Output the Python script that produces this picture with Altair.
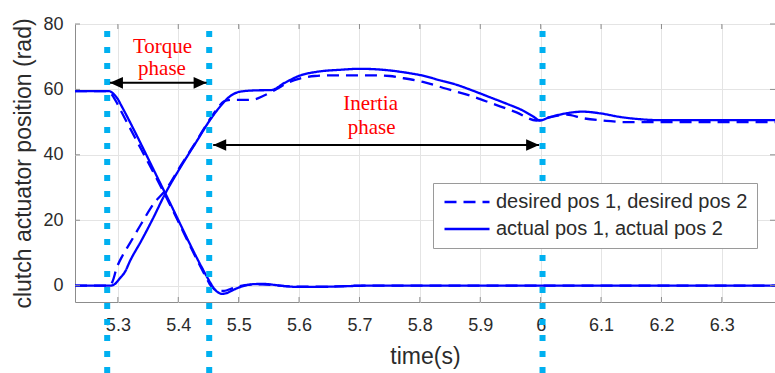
import altair as alt
import pandas as pd

# axes
x_ticks = [5.3, 5.4, 5.5, 5.6, 5.7, 5.8, 5.9, 6.0, 6.1, 6.2, 6.3]
y_ticks = [0, 20, 40, 60, 80]
x_domain = [5.229, 6.388]
y_domain = [-5, 80]

# clutch 1 (disengaging): desired and actual position
t_des1 = [5.229, 5.283, 5.288, 5.293, 5.298, 5.303, 5.378, 5.447, 5.452, 5.458, 5.466,
          5.476, 5.488, 5.500, 5.520, 5.540, 5.560, 5.600, 5.650, 5.700, 6.388]
p_des1 = [59.5, 59.5, 58.9, 57.6, 56.0, 54.2, 27.8, 2.2, 0.5, -0.8, -1.6,
          -1.6, -0.9, -0.2, 0.3, 0.4, 0.1, -0.3, -0.3, 0.0, 0.0]
t_act1 = [5.229, 5.285, 5.290, 5.295, 5.300, 5.305, 5.378, 5.449, 5.454, 5.458, 5.464,
          5.472, 5.480, 5.490, 5.500, 5.515, 5.530, 5.545, 5.560, 5.580, 5.600,
          5.630, 5.670, 5.720, 6.388]
p_act1 = [59.5, 59.5, 59.1, 58.2, 57.0, 55.3, 28.4, 2.2, 0.6, -0.6, -1.8,
          -2.5, -2.3, -1.4, -0.6, 0.2, 0.5, 0.5, 0.2, -0.2, -0.4,
          -0.4, -0.2, 0.0, 0.0]

# clutch 2 (engaging): desired and actual position
t_des2 = [5.229, 5.287, 5.291, 5.298, 5.308, 5.320, 5.339, 5.361, 5.378, 5.403,
          5.430, 5.452, 5.466, 5.475, 5.489, 5.510, 5.524, 5.543, 5.563, 5.581,
          5.601, 5.626, 5.656, 5.717, 5.750, 5.767, 5.805, 5.844, 5.883, 5.921,
          5.960, 5.993, 6.015, 6.043, 6.070, 6.109, 6.139, 6.388]
p_des2 = [0.0, 0.0, 1.2, 5.4, 9.3, 13.0, 19.0, 25.5, 29.0, 36.4,
          44.2, 50.8, 54.5, 56.3, 56.8, 56.8, 56.9, 58.2, 60.1, 62.0,
          63.3, 64.1, 64.3, 64.3, 64.1, 63.6, 62.3, 60.2, 58.1, 55.6,
          53.0, 50.5, 51.5, 52.3, 51.2, 50.4, 50.0, 50.0]
t_act2 = [5.229, 5.288, 5.295, 5.303, 5.312, 5.320, 5.339, 5.358, 5.378, 5.403,
          5.430, 5.452, 5.469, 5.485, 5.502, 5.527, 5.554, 5.576, 5.601, 5.634,
          5.668, 5.701, 5.750, 5.778, 5.805, 5.833, 5.861, 5.888, 5.916, 5.944,
          5.971, 5.987, 5.999, 6.012, 6.037, 6.070, 6.098, 6.131, 6.164, 6.197, 6.388]
p_act2 = [0.0, 0.0, 0.5, 2.2, 4.3, 7.5, 13.8, 20.5, 28.0, 36.0,
          44.0, 50.5, 54.7, 57.8, 59.3, 59.7, 59.8, 62.0, 64.2, 65.5,
          66.0, 66.3, 65.8, 65.1, 64.2, 62.8, 61.4, 59.6, 57.6, 55.6,
          53.5, 51.8, 50.5, 51.3, 52.5, 53.2, 52.7, 51.6, 50.9, 50.6, 50.6]

kind_names = ["desired pos 1, desired pos 2", "actual pos 1, actual pos 2"]

# phase boundaries and annotations
phase_marks = [5.2823, 5.4512, 6.0031]
torque_arrow = {"t0": 5.2868, "t1": 5.4469, "y": 62.0}
inertia_arrow = {"t0": 5.4578, "t1": 5.9975, "y": 43.0}
note_text = ["Torque", "phase", "Inertia", "phase"]
note_t = [5.374, 5.373, 5.7184, 5.720]
note_y = [73.0, 66.3, 55.6, 48.3]

BLUE = "#0000ff"
CYAN = "#00b0f0"
TXT = "#2b2b2b"
FRAME = "#8c8c8c"
SANS = "Liberation Sans"

rows = []
for name, kind, ts, ps in [
    ("des1", kind_names[0], t_des1, p_des1),
    ("des2", kind_names[0], t_des2, p_des2),
    ("act1", kind_names[1], t_act1, p_act1),
    ("act2", kind_names[1], t_act2, p_act2),
]:
    for t, p in zip(ts, ps):
        rows.append({"time": t, "value": p, "series": name, "kind": kind})
curves = pd.DataFrame(rows)

xs = alt.Scale(domain=x_domain, nice=False, zero=False)
ys = alt.Scale(domain=y_domain, nice=False, zero=False)

lines = alt.Chart(curves).mark_line(
    color=BLUE, strokeWidth=2.3, interpolate="monotone", clip=True
).encode(
    x=alt.X("time:Q", scale=xs, axis=alt.Axis(
        values=x_ticks, format=".1~f", grid=True, ticks=False, domain=False,
        labelFontSize=18, labelPadding=14, labelColor=TXT, labelFont=SANS,
        labelFlush=False, title="time(s)", titleFontSize=23, titleFont=SANS,
        titleFontWeight="normal", titleColor=TXT, titleY=61,
        titleBaseline="alphabetic", gridColor="#e4e4e4", gridWidth=1)),
    y=alt.Y("value:Q", scale=ys, axis=alt.Axis(
        values=y_ticks, grid=True, ticks=False, domain=False,
        labelFontSize=18, labelPadding=12, labelColor=TXT, labelFont=SANS,
        title="clutch actuator position (rad)", titleFontSize=23, titleFont=SANS,
        titleFontWeight="normal", titleColor=TXT, titleX=-45,
        titleBaseline="alphabetic", gridColor="#e4e4e4", gridWidth=1)),
    strokeDash=alt.StrokeDash("kind:N", scale=alt.Scale(
        domain=kind_names, range=[[12, 7], [1, 0]]),
        legend=alt.Legend(
            title=None, orient="none", legendX=358, legendY=159,
            # a 45px long line drawn from the left edge of a 15px symbol slot
            symbolType="M-1,0L5,0", symbolSize=225, symbolStrokeWidth=2.5,
            symbolStrokeColor=BLUE, symbolFillColor="transparent",
            labelFontSize=20, labelFont=SANS,
            labelColor=TXT, labelOffset=34, labelLimit=400,
            fillColor="white", strokeColor="#9a9a9a", padding=9,
            rowPadding=7, cornerRadius=0)),
    detail="series:N",
)

# inward tick marks on the frame
xt = pd.DataFrame({"time": x_ticks})
yt = pd.DataFrame({"value": y_ticks})
tick_style = dict(color=FRAME, strokeWidth=1)
ticks_bottom = alt.Chart(xt).mark_rule(**tick_style).encode(
    x=alt.X("time:Q", scale=xs), y=alt.value(278), y2=alt.value(273))
ticks_top = alt.Chart(xt).mark_rule(**tick_style).encode(
    x=alt.X("time:Q", scale=xs), y=alt.value(0), y2=alt.value(5))
ticks_left = alt.Chart(yt).mark_rule(**tick_style).encode(
    y=alt.Y("value:Q", scale=ys), x=alt.value(0), x2=alt.value(5))
ticks_right = alt.Chart(yt).mark_rule(**tick_style).encode(
    y=alt.Y("value:Q", scale=ys), x=alt.value(700), x2=alt.value(695))

# dotted phase boundaries running past the frame
phases = alt.Chart(pd.DataFrame({"time": phase_marks})).mark_rule(
    color=CYAN, strokeWidth=6, strokeDash=[6, 10]
).encode(x=alt.X("time:Q", scale=xs), y=alt.value(7), y2=alt.value(349))

# double-headed arrows
arrows = pd.DataFrame([
    {"t0": torque_arrow["t0"], "t1": torque_arrow["t1"], "y": torque_arrow["y"]},
    {"t0": inertia_arrow["t0"], "t1": inertia_arrow["t1"], "y": inertia_arrow["y"]},
])
shafts = alt.Chart(arrows).mark_rule(color="black", strokeWidth=2).encode(
    x=alt.X("t0:Q", scale=xs), x2="t1:Q", y=alt.Y("y:Q", scale=ys))
heads_left = alt.Chart(arrows).mark_point(
    shape="M0,0L2,-0.9L2,0.9Z", filled=True, size=169, color="black",
    opacity=1, strokeWidth=0
).encode(x=alt.X("t0:Q", scale=xs), y=alt.Y("y:Q", scale=ys))
heads_right = alt.Chart(arrows).mark_point(
    shape="M0,0L-2,-0.9L-2,0.9Z", filled=True, size=169, color="black",
    opacity=1, strokeWidth=0
).encode(x=alt.X("t1:Q", scale=xs), y=alt.Y("y:Q", scale=ys))

notes = alt.Chart(pd.DataFrame({"label": note_text, "time": note_t, "value": note_y})).mark_text(
    font="Liberation Serif", fontSize=21, color="#ff0000", align="center",
    baseline="middle"
).encode(x=alt.X("time:Q", scale=xs), y=alt.Y("value:Q", scale=ys), text="label:N")

chart = alt.layer(
    lines, ticks_bottom, ticks_top, ticks_left, ticks_right,
    phases, shafts, heads_left, heads_right, notes
).properties(
    width=700, height=278,
    autosize=alt.AutoSizeParams(type="none"),
    padding={"left": 75, "top": 24, "right": 0, "bottom": 71},
    background="white",
).configure_view(stroke=FRAME, strokeWidth=1)

chart.save("out.html", embed_options={"renderer": "svg", "actions": False})
